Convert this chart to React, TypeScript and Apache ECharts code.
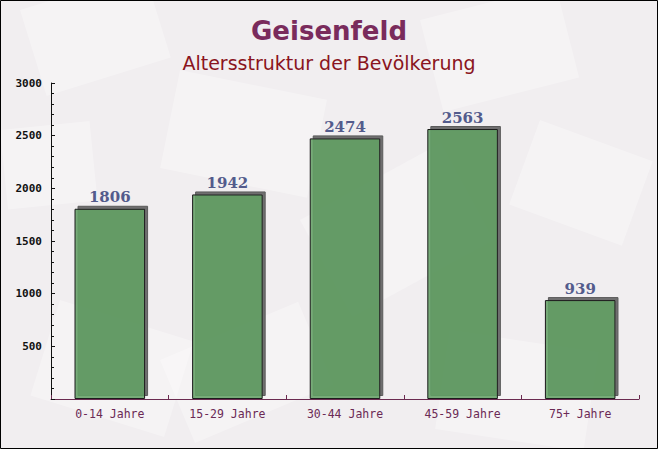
import React, { useEffect, useRef } from "react";
import * as echarts from "echarts";

const categories = ["0-14 Jahre", "15-29 Jahre", "30-44 Jahre", "45-59 Jahre", "75+ Jahre"];
const values = [1806, 1942, 2474, 2563, 939];
const yTicks = [0, 500, 1000, 1500, 2000, 2500, 3000];

const W = 658;
const H = 449;

const bgShapes = [
  { x: 20, y: 10, w: 130, h: 90, r: 0.3 },
  { x: 180, y: 70, w: 150, h: 100, r: -0.2 },
  { x: 420, y: 20, w: 140, h: 95, r: 0.25 },
  { x: 540, y: 120, w: 120, h: 90, r: -0.35 },
  { x: 300, y: 220, w: 160, h: 110, r: 0.5 },
  { x: 60, y: 300, w: 140, h: 100, r: -0.3 },
  { x: 160, y: 360, w: 150, h: 90, r: 0.4 },
  { x: 450, y: 330, w: 150, h: 100, r: -0.15 },
  { x: 0, y: 130, w: 90, h: 80, r: 0.1 },
];

export default function App() {
  const ref = useRef<HTMLDivElement>(null);
  useEffect(() => {
    if (!ref.current) return;
    const chart = echarts.init(ref.current, null, { renderer: "svg", width: W, height: H });
    chart.setOption({
      animation: false,
      backgroundColor: "#f1eef0",
      title: [
        {
          text: "Geisenfeld",
          left: "center",
          top: 13,
          textStyle: { fontFamily: "DejaVu Sans", fontWeight: "bold", fontSize: 26, color: "#7a2b5c" },
        },
        {
          text: "Altersstruktur der Bevölkerung",
          left: "center",
          top: 48,
          textStyle: { fontFamily: "DejaVu Sans", fontWeight: "normal", fontSize: 19, color: "#8a1420" },
        },
      ],
      graphic: [
        ...bgShapes.map((s) => ({
          type: "rect",
          z: -10,
          silent: true,
          x: s.x,
          y: s.y,
          rotation: s.r,
          shape: { x: 0, y: 0, width: s.w, height: s.h },
          style: { fill: "rgba(255,255,255,0.3)" },
        })),
        {
          type: "rect",
          z: 100,
          silent: true,
          shape: { x: 0.5, y: 0.5, width: W - 1, height: H - 1 },
          style: { fill: "none", stroke: "#000", lineWidth: 1 },
        },
      ],
      grid: { left: 51, right: 19, top: 83, bottom: 50, containLabel: false },
      xAxis: {
        type: "category",
        data: categories,
        axisLine: { lineStyle: { color: "#6b2a50", width: 1 } },
        axisTick: { show: true, inside: true, length: 4, lineStyle: { color: "#6b2a50" } },
        axisLabel: {
          fontFamily: "DejaVu Sans Mono",
          fontSize: 11.5,
          color: "#6b2a55",
          margin: 9,
        },
      },
      yAxis: [
        {
          type: "value",
          min: 0,
          max: 3000,
          interval: 500,
          axisLine: { show: true, lineStyle: { color: "#111", width: 1 } },
          axisTick: { show: true, inside: true, length: 4, lineStyle: { color: "#111" } },
          splitLine: { show: false },
          axisLabel: {
            fontFamily: "DejaVu Sans Mono",
            fontWeight: "bold",
            fontSize: 11,
            color: "#111",
            margin: 9,
            formatter: (v: number) => (v === 0 || yTicks.indexOf(v) < 0 ? "" : String(v)),
          },
        },
        {
          type: "value",
          position: "left",
          offset: 0,
          min: 0,
          max: 3000,
          interval: 100,
          axisLine: { show: false },
          axisTick: { show: true, inside: true, length: 3, lineStyle: { color: "#111" } },
          splitLine: { show: false },
          axisLabel: { show: false },
        },
      ],
      series: [
        {
          type: "bar",
          yAxisIndex: 0,
          data: values,
          barWidth: "60%",
          itemStyle: {
            color: "rgba(98,160,100,0.86)",
            borderColor: "#1a1a1a",
            borderWidth: 1,
            shadowColor: "#5a5a5a",
            shadowBlur: 0,
            shadowOffsetX: 3,
            shadowOffsetY: -3,
          },
          label: {
            show: true,
            position: "top",
            distance: 4,
            fontFamily: "DejaVu Serif",
            fontWeight: "bold",
            fontSize: 15,
            color: "#535b8c",
          },
        },
      ],
    });
    return () => chart.dispose();
  }, []);
  return <div ref={ref} style={{ position: "fixed", left: 0, top: 0, width: W, height: H }} />;
}
